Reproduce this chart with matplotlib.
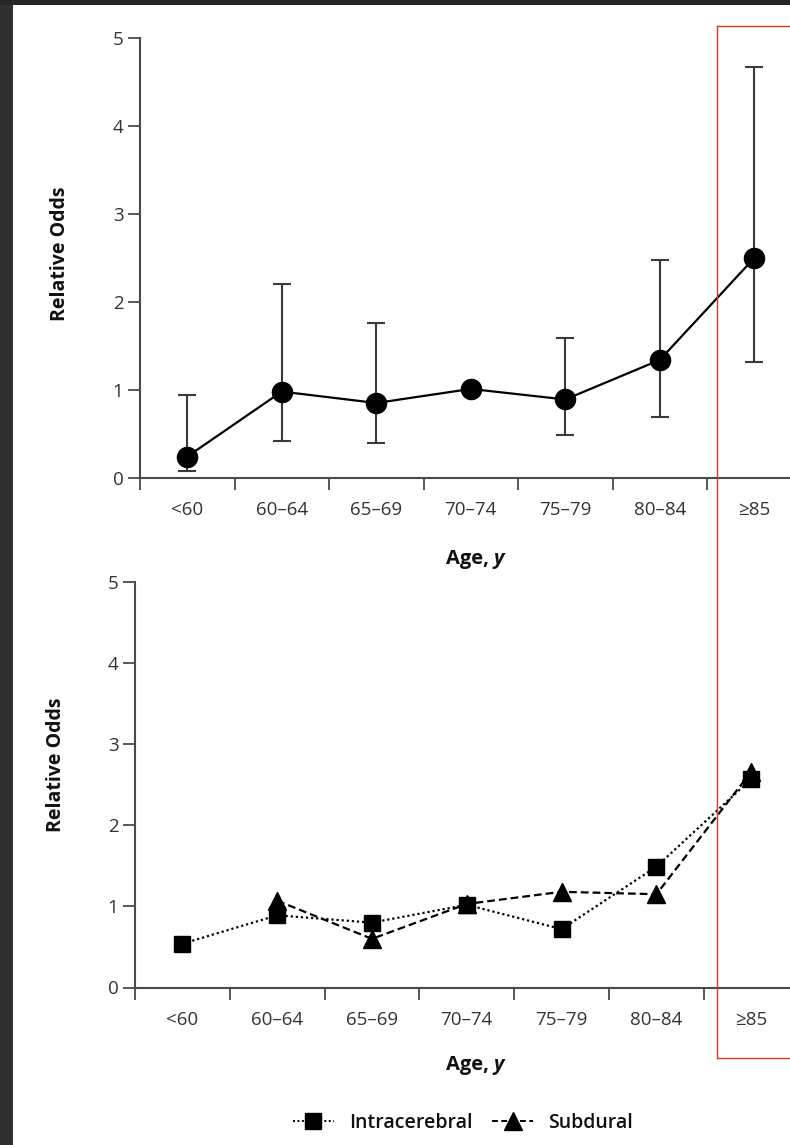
import numpy as np
import matplotlib
matplotlib.use('Agg')
import matplotlib.pyplot as plt
from matplotlib.lines import Line2D
from matplotlib.patches import Rectangle

plt.rcParams['font.family'] = ['Open Sans', 'DejaVu Sans']

# data
ages = ['<60', '60–64', '65–69', '70–74', '75–79', '80–84', '≥85']
yticks = [0, 1, 2, 3, 4, 5]

overall = [0.24, 0.98, 0.85, 1.01, 0.89, 1.34, 2.50]
ci_low = [0.08, 0.42, 0.40, None, 0.49, 0.69, 1.32]
ci_high = [0.94, 2.20, 1.76, None, 1.59, 2.48, 4.67]

intracerebral = [0.54, 0.89, 0.80, 1.02, 0.72, 1.49, 2.57]
subdural = [None, 1.07, 0.60, 1.03, 1.18, 1.15, 2.66]

W, H = 790, 1145
fig = plt.figure(figsize=(W / 100, H / 100), dpi=100)
fig.patch.set_facecolor('white')

# dark frame of the screenshot (left and top)
fig.patches.append(Rectangle((0, 0), 13 / W, 1, transform=fig.transFigure,
                             facecolor='#303030', edgecolor='none', zorder=0))
fig.patches.append(Rectangle((0, 1 - 5 / H), 1, 5 / H, transform=fig.transFigure,
                             facecolor='#262626', edgecolor='none', zorder=0))

spine_col = '#4a4a4a'
text_col = '#333333'


def style_axes(ax, xmax):
    x = np.arange(len(ages))
    ax.set_xlim(-0.5, xmax)
    ax.set_ylim(0, 5)
    for s in ['top', 'right']:
        ax.spines[s].set_visible(False)
    for s in ['left', 'bottom']:
        ax.spines[s].set_color(spine_col)
        ax.spines[s].set_linewidth(1.5)
    ax.set_xticks(np.arange(-0.5, len(ages) - 1, 1.0))
    ax.set_xticklabels([])
    ax.set_xticks(x, minor=True)
    ax.set_xticklabels(ages, minor=True)
    ax.tick_params(axis='x', which='major', direction='out', length=8.5,
                   width=1.3, color=spine_col)
    ax.tick_params(axis='x', which='minor', length=0, pad=17,
                   labelsize=13.5, labelcolor=text_col)
    ax.set_yticks(yticks)
    ax.tick_params(axis='y', direction='out', length=8.5, width=1.3,
                   color=spine_col, pad=3.5, labelsize=13.5, labelcolor=text_col)
    ax.set_facecolor('none')


# top panel
ax1 = fig.add_axes([140 / W, 1 - 477.7 / H, 650 / W, 439.4 / H])
style_axes(ax1, -0.5 + 650 / 94.5)
x = np.arange(len(ages))
ax1.plot(x, overall, color='black', lw=1.6, marker='o', ms=14.5, zorder=3,
         clip_on=False)
idx = [i for i in range(len(ages)) if ci_low[i] is not None]
yv = np.array([overall[i] for i in idx])
lo = np.array([ci_low[i] for i in idx])
hi = np.array([ci_high[i] for i in idx])
ax1.errorbar(idx, yv, yerr=[yv - lo, hi - yv], fmt='none', ecolor='#3a3a3a',
             elinewidth=1.5, capsize=6.5, capthick=1.5, zorder=2)
ax1.set_ylabel('Relative Odds', fontsize=14, fontweight='bold',
               color='#111111')
ax1.yaxis.set_label_coords(-0.108, 0.51)

# bottom panel
ax2 = fig.add_axes([135 / W, 1 - 987.5 / H, 655 / W, 405.5 / H])
style_axes(ax2, -0.5 + 655 / 94.8)
sub = np.array([np.nan if v is None else v for v in subdural])
ax2.plot(x, intracerebral, color='black', lw=1.6, ls=(0, (1, 1.3)),
         marker='s', ms=12, zorder=3)
ax2.plot(x, sub, color='black', lw=1.6, ls=(0, (3.5, 1.8)),
         marker='^', ms=13, zorder=3, clip_on=False)
ax2.set_ylabel('Relative Odds', fontsize=14, fontweight='bold',
               color='#111111')
ax2.yaxis.set_label_coords(-0.105, 0.55)

# x axis titles "Age, y"
for yc in [559, 1065]:
    fig.text(489 / W, 1 - yc / H, 'Age,', ha='right', va='center',
             fontsize=14.5, fontweight='bold', color='#111111')
    fig.text(493 / W, 1 - yc / H, 'y', ha='left', va='center',
             fontsize=14.5, fontweight='bold', style='italic', color='#111111')

# legend
handles = [
    Line2D([], [], color='black', lw=1.4, ls=(0, (1, 1.3)), marker='s', ms=12),
    Line2D([], [], color='black', lw=1.4, ls=(0, (3, 1.8)), marker='^', ms=13),
]
fig.legend(handles, ['Intracerebral', 'Subdural'], loc='center', ncol=2,
           bbox_to_anchor=(463 / W, 1 - 1123 / H), frameon=False,
           prop={'size': 14, 'weight': 'semibold'}, handlelength=2.1,
           handletextpad=0.8, columnspacing=1.0, labelcolor='#111111')

# red highlight box
red = '#d43a22'
fig.add_artist(Line2D([717 / W, 717 / W], [1 - 26 / H, 1 - 1058 / H],
                      transform=fig.transFigure, color=red, lw=1))
fig.add_artist(Line2D([717 / W, 1], [1 - 26 / H, 1 - 26 / H],
                      transform=fig.transFigure, color=red, lw=1))
fig.add_artist(Line2D([717 / W, 1], [1 - 1058 / H, 1 - 1058 / H],
                      transform=fig.transFigure, color=red, lw=1))

plt.savefig('out.png', dpi=100)
